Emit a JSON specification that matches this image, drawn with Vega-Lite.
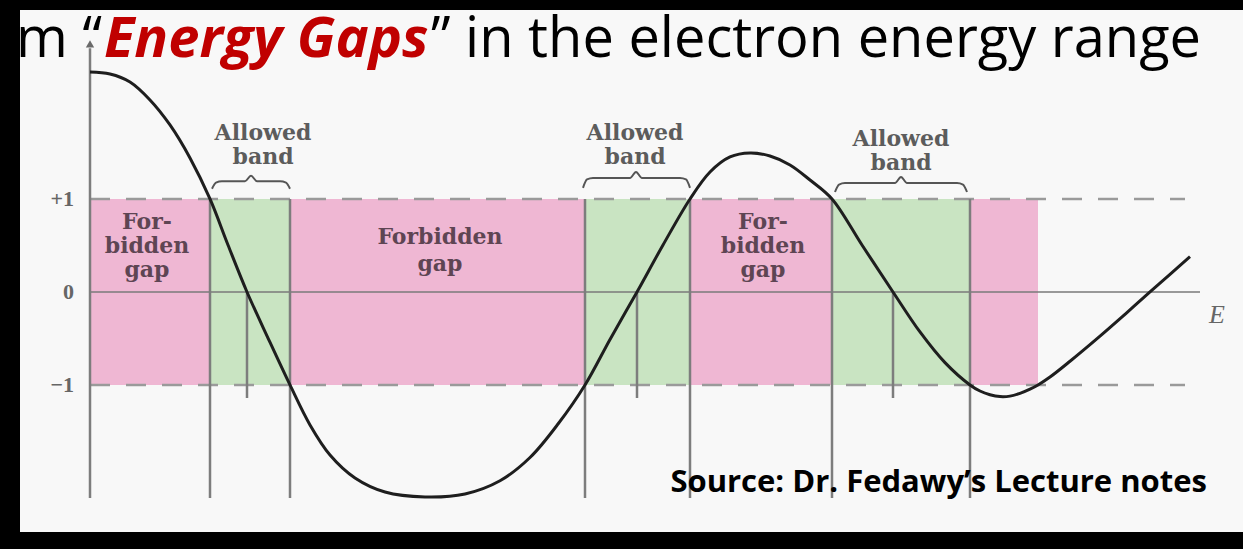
{
  "$schema": "https://vega.github.io/schema/vega-lite/v6.json",
  "width": 1223,
  "height": 522,
  "autosize": {"type": "none"},
  "padding": {"left": 20, "top": 10, "right": 0, "bottom": 17},
  "background": "#000000",
  "config": {"view": {"stroke": null, "fill": "#f8f8f8"}},
  "datasets": {
    "curve": [
      {"E": 0, "f": 2.366}, {"E": 0.2, "f": 2.344}, {"E": 0.4, "f": 2.258}, {"E": 0.6, "f": 2.065},
      {"E": 0.8, "f": 1.796}, {"E": 1.0, "f": 1.441}, {"E": 1.2, "f": 1.0}, {"E": 1.38, "f": 0.505},
      {"E": 1.57, "f": 0}, {"E": 1.78, "f": -0.495}, {"E": 2.0, "f": -1.0}, {"E": 2.2, "f": -1.43},
      {"E": 2.4, "f": -1.753}, {"E": 2.65, "f": -2.0}, {"E": 2.95, "f": -2.151}, {"E": 3.35, "f": -2.204},
      {"E": 3.75, "f": -2.172}, {"E": 4.1, "f": -2.03}, {"E": 4.4, "f": -1.78}, {"E": 4.68, "f": -1.42},
      {"E": 4.95, "f": -1.0}, {"E": 5.2, "f": -0.51}, {"E": 5.47, "f": 0}, {"E": 5.73, "f": 0.505},
      {"E": 6.0, "f": 1.0}, {"E": 6.2, "f": 1.29}, {"E": 6.4, "f": 1.452}, {"E": 6.6, "f": 1.495},
      {"E": 6.8, "f": 1.462}, {"E": 7.0, "f": 1.366}, {"E": 7.2, "f": 1.204}, {"E": 7.42, "f": 1.0},
      {"E": 7.72, "f": 0.505}, {"E": 8.03, "f": 0}, {"E": 8.3, "f": -0.43}, {"E": 8.55, "f": -0.76},
      {"E": 8.8, "f": -1.0}, {"E": 8.9, "f": -1.065}, {"E": 9.0, "f": -1.105}, {"E": 9.1, "f": -1.125},
      {"E": 9.2, "f": -1.12}, {"E": 9.3, "f": -1.09}, {"E": 9.4, "f": -1.045}, {"E": 9.48, "f": -1.0},
      {"E": 9.6, "f": -0.915}, {"E": 9.8, "f": -0.745}, {"E": 10.1, "f": -0.475}, {"E": 10.35, "f": -0.24},
      {"E": 10.6, "f": 0}, {"E": 10.8, "f": 0.19}, {"E": 11.0, "f": 0.38}
    ],
    "bands": [
      {"E0": 0, "E1": 1.2, "kind": "forbidden"},
      {"E0": 1.2, "E1": 2.0, "kind": "allowed"},
      {"E0": 2.0, "E1": 4.95, "kind": "forbidden"},
      {"E0": 4.95, "E1": 6.0, "kind": "allowed"},
      {"E0": 6.0, "E1": 7.42, "kind": "forbidden"},
      {"E0": 7.42, "E1": 8.8, "kind": "allowed"},
      {"E0": 8.8, "E1": 9.48, "kind": "forbidden"}
    ],
    "edges": [{"E": 1.2}, {"E": 2.0}, {"E": 4.95}, {"E": 6.0}, {"E": 7.42}, {"E": 8.8}],
    "crossings": [{"E": 1.57}, {"E": 5.47}, {"E": 8.03}],
    "braces": [
      {"id": 1, "E": 1.22, "f": 1.11}, {"id": 1, "E": 1.26, "f": 1.175}, {"id": 1, "E": 1.32, "f": 1.19},
      {"id": 1, "E": 1.55, "f": 1.19}, {"id": 1, "E": 1.61, "f": 1.25}, {"id": 1, "E": 1.67, "f": 1.19},
      {"id": 1, "E": 1.9, "f": 1.19}, {"id": 1, "E": 1.96, "f": 1.175}, {"id": 1, "E": 2.0, "f": 1.11},
      {"id": 2, "E": 4.93, "f": 1.12}, {"id": 2, "E": 4.97, "f": 1.21}, {"id": 2, "E": 5.03, "f": 1.226},
      {"id": 2, "E": 5.4, "f": 1.226}, {"id": 2, "E": 5.46, "f": 1.29}, {"id": 2, "E": 5.52, "f": 1.226},
      {"id": 2, "E": 5.9, "f": 1.226}, {"id": 2, "E": 5.96, "f": 1.21}, {"id": 2, "E": 6.0, "f": 1.12},
      {"id": 3, "E": 7.45, "f": 1.075}, {"id": 3, "E": 7.49, "f": 1.155}, {"id": 3, "E": 7.55, "f": 1.172},
      {"id": 3, "E": 8.05, "f": 1.172}, {"id": 3, "E": 8.11, "f": 1.237}, {"id": 3, "E": 8.17, "f": 1.172},
      {"id": 3, "E": 8.67, "f": 1.172}, {"id": 3, "E": 8.73, "f": 1.155}, {"id": 3, "E": 8.77, "f": 1.075}
    ],
    "allowedLabels": [
      {"text": "Allowed", "E": 1.73, "f": 1.71}, {"text": "band", "E": 1.73, "f": 1.452},
      {"text": "Allowed", "E": 5.45, "f": 1.71}, {"text": "band", "E": 5.45, "f": 1.452},
      {"text": "Allowed", "E": 8.11, "f": 1.645}, {"text": "band", "E": 8.11, "f": 1.387}
    ],
    "forbiddenLabels": [
      {"text": "For-", "E": 0.57, "f": 0.753}, {"text": "bidden", "E": 0.57, "f": 0.495}, {"text": "gap", "E": 0.57, "f": 0.237},
      {"text": "Forbidden", "E": 3.5, "f": 0.591}, {"text": "gap", "E": 3.5, "f": 0.301},
      {"text": "For-", "E": 6.73, "f": 0.753}, {"text": "bidden", "E": 6.73, "f": 0.495}, {"text": "gap", "E": 6.73, "f": 0.237}
    ],
    "levels": [{"text": "+1", "f": 1}, {"text": "0", "f": 0}, {"text": "−1", "f": -1}]
  },
  "layer": [
    {
      "data": {"name": "bands"},
      "mark": {"type": "rect"},
      "encoding": {
        "x": {"field": "E0", "type": "quantitative", "scale": {"domain": [-0.7, 11.53], "nice": false, "zero": false}, "axis": null},
        "x2": {"field": "E1"},
        "y": {"datum": 1, "type": "quantitative", "scale": {"domain": [-2.581, 3.032], "nice": false, "zero": false}, "axis": null},
        "y2": {"datum": -1},
        "color": {"field": "kind", "type": "nominal", "scale": {"domain": ["forbidden", "allowed"], "range": ["#efb7d3", "#c9e4c2"]}, "legend": null}
      }
    },
    {
      "data": {"values": [{}]},
      "mark": {"type": "rule", "color": "#7a7a7a", "strokeWidth": 1.6},
      "encoding": {
        "x": {"datum": 0, "type": "quantitative", "scale": {"domain": [-0.7, 11.53], "nice": false, "zero": false}, "axis": null},
        "x2": {"datum": 11.1},
        "y": {"datum": 0, "type": "quantitative", "scale": {"domain": [-2.581, 3.032], "nice": false, "zero": false}, "axis": null}
      }
    },
    {
      "data": {"values": [{"level": 1}, {"level": -1}]},
      "mark": {"type": "rule", "color": "#9a9a9a", "strokeWidth": 2.5, "strokeDash": [20, 16]},
      "encoding": {
        "x": {"datum": 0, "type": "quantitative", "scale": {"domain": [-0.7, 11.53], "nice": false, "zero": false}, "axis": null},
        "x2": {"datum": 10.95},
        "y": {"field": "level", "type": "quantitative", "scale": {"domain": [-2.581, 3.032], "nice": false, "zero": false}, "axis": null}
      }
    },
    {
      "data": {"name": "edges"},
      "mark": {"type": "rule", "color": "#7d7d7d", "strokeWidth": 2.5},
      "encoding": {
        "x": {"field": "E", "type": "quantitative", "scale": {"domain": [-0.7, 11.53], "nice": false, "zero": false}, "axis": null},
        "y": {"datum": 1, "type": "quantitative", "scale": {"domain": [-2.581, 3.032], "nice": false, "zero": false}, "axis": null},
        "y2": {"datum": -2.215}
      }
    },
    {
      "data": {"name": "crossings"},
      "mark": {"type": "rule", "color": "#7d7d7d", "strokeWidth": 2.5},
      "encoding": {
        "x": {"field": "E", "type": "quantitative", "scale": {"domain": [-0.7, 11.53], "nice": false, "zero": false}, "axis": null},
        "y": {"datum": 0, "type": "quantitative", "scale": {"domain": [-2.581, 3.032], "nice": false, "zero": false}, "axis": null},
        "y2": {"datum": -1.14}
      }
    },
    {
      "data": {"values": [{}]},
      "mark": {"type": "rule", "color": "#7d7d7d", "strokeWidth": 2.5},
      "encoding": {
        "x": {"datum": 0, "type": "quantitative", "scale": {"domain": [-0.7, 11.53], "nice": false, "zero": false}, "axis": null},
        "y": {"datum": -2.215, "type": "quantitative", "scale": {"domain": [-2.581, 3.032], "nice": false, "zero": false}, "axis": null},
        "y2": {"datum": 2.62}
      }
    },
    {
      "data": {"values": [{}]},
      "mark": {"type": "point", "shape": "triangle-up", "filled": true, "size": 70, "color": "#6a6a6a", "opacity": 1},
      "encoding": {
        "x": {"datum": 0, "type": "quantitative", "scale": {"domain": [-0.7, 11.53], "nice": false, "zero": false}, "axis": null},
        "y": {"datum": 2.667, "type": "quantitative", "scale": {"domain": [-2.581, 3.032], "nice": false, "zero": false}, "axis": null}
      }
    },
    {
      "data": {"name": "curve"},
      "mark": {"type": "line", "color": "#1e1e1e", "strokeWidth": 3, "interpolate": "catmull-rom"},
      "encoding": {
        "x": {"field": "E", "type": "quantitative", "scale": {"domain": [-0.7, 11.53], "nice": false, "zero": false}, "axis": null},
        "y": {"field": "f", "type": "quantitative", "scale": {"domain": [-2.581, 3.032], "nice": false, "zero": false}, "axis": null}
      }
    },
    {
      "data": {"name": "braces"},
      "mark": {"type": "line", "color": "#555555", "strokeWidth": 2, "interpolate": "monotone"},
      "encoding": {
        "x": {"field": "E", "type": "quantitative", "scale": {"domain": [-0.7, 11.53], "nice": false, "zero": false}, "axis": null},
        "y": {"field": "f", "type": "quantitative", "scale": {"domain": [-2.581, 3.032], "nice": false, "zero": false}, "axis": null},
        "detail": {"field": "id", "type": "nominal"}
      }
    },
    {
      "data": {"name": "allowedLabels"},
      "mark": {"type": "text", "font": "DejaVu Serif", "fontWeight": "bold", "fontSize": 22, "color": "#5c5c5c", "align": "center", "baseline": "middle"},
      "encoding": {
        "x": {"field": "E", "type": "quantitative", "scale": {"domain": [-0.7, 11.53], "nice": false, "zero": false}, "axis": null},
        "y": {"field": "f", "type": "quantitative", "scale": {"domain": [-2.581, 3.032], "nice": false, "zero": false}, "axis": null},
        "text": {"field": "text"}
      }
    },
    {
      "data": {"name": "forbiddenLabels"},
      "mark": {"type": "text", "font": "DejaVu Serif", "fontWeight": "bold", "fontSize": 22, "color": "#5e4553", "align": "center", "baseline": "middle"},
      "encoding": {
        "x": {"field": "E", "type": "quantitative", "scale": {"domain": [-0.7, 11.53], "nice": false, "zero": false}, "axis": null},
        "y": {"field": "f", "type": "quantitative", "scale": {"domain": [-2.581, 3.032], "nice": false, "zero": false}, "axis": null},
        "text": {"field": "text"}
      }
    },
    {
      "data": {"name": "levels"},
      "mark": {"type": "text", "font": "Liberation Serif", "fontWeight": "bold", "fontSize": 22, "color": "#666666", "align": "right", "baseline": "middle"},
      "encoding": {
        "x": {"datum": -0.16, "type": "quantitative", "scale": {"domain": [-0.7, 11.53], "nice": false, "zero": false}, "axis": null},
        "y": {"field": "f", "type": "quantitative", "scale": {"domain": [-2.581, 3.032], "nice": false, "zero": false}, "axis": null},
        "text": {"field": "text"}
      }
    },
    {
      "data": {"values": [{"text": "E"}]},
      "mark": {"type": "text", "font": "Liberation Serif", "fontStyle": "italic", "fontSize": 26, "color": "#666666", "align": "center", "baseline": "middle"},
      "encoding": {
        "x": {"datum": 11.27, "type": "quantitative", "scale": {"domain": [-0.7, 11.53], "nice": false, "zero": false}, "axis": null},
        "y": {"datum": -0.247, "type": "quantitative", "scale": {"domain": [-2.581, 3.032], "nice": false, "zero": false}, "axis": null},
        "text": {"field": "text"}
      }
    },
    {
      "data": {"values": [{"text": "from “"}]},
      "mark": {"type": "text", "font": "Open Sans", "fontSize": 56, "color": "#000000", "align": "right", "baseline": "alphabetic"},
      "encoding": {
        "x": {"datum": 0.12, "type": "quantitative", "scale": {"domain": [-0.7, 11.53], "nice": false, "zero": false}, "axis": null},
        "y": {"datum": 2.527, "type": "quantitative", "scale": {"domain": [-2.581, 3.032], "nice": false, "zero": false}, "axis": null},
        "text": {"field": "text"}
      }
    },
    {
      "data": {"values": [{"text": "Energy Gaps"}]},
      "mark": {"type": "text", "font": "Open Sans", "fontSize": 56, "fontWeight": "bold", "fontStyle": "italic", "color": "#c00000", "align": "left", "baseline": "alphabetic"},
      "encoding": {
        "x": {"datum": 0.14, "type": "quantitative", "scale": {"domain": [-0.7, 11.53], "nice": false, "zero": false}, "axis": null},
        "y": {"datum": 2.527, "type": "quantitative", "scale": {"domain": [-2.581, 3.032], "nice": false, "zero": false}, "axis": null},
        "text": {"field": "text"}
      }
    },
    {
      "data": {"values": [{"text": "” in the electron energy range"}]},
      "mark": {"type": "text", "font": "Open Sans", "fontSize": 56, "color": "#000000", "align": "left", "baseline": "alphabetic"},
      "encoding": {
        "x": {"datum": 3.41, "type": "quantitative", "scale": {"domain": [-0.7, 11.53], "nice": false, "zero": false}, "axis": null},
        "y": {"datum": 2.527, "type": "quantitative", "scale": {"domain": [-2.581, 3.032], "nice": false, "zero": false}, "axis": null},
        "text": {"field": "text"}
      }
    },
    {
      "data": {"values": [{"text": "Source: Dr. Fedawy’s Lecture notes"}]},
      "mark": {"type": "text", "font": "Open Sans", "fontSize": 31, "fontWeight": "bold", "color": "#000000", "align": "right", "baseline": "alphabetic"},
      "encoding": {
        "x": {"datum": 11.17, "type": "quantitative", "scale": {"domain": [-0.7, 11.53], "nice": false, "zero": false}, "axis": null},
        "y": {"datum": -2.151, "type": "quantitative", "scale": {"domain": [-2.581, 3.032], "nice": false, "zero": false}, "axis": null},
        "text": {"field": "text"}
      }
    }
  ]
}
